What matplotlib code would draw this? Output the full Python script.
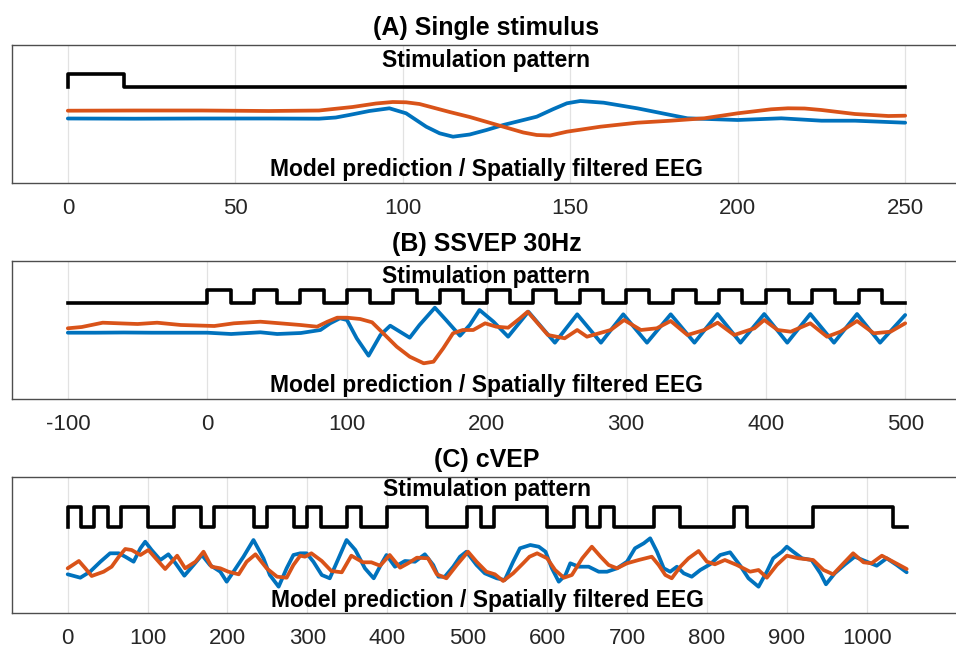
import numpy as np
import matplotlib
matplotlib.use("Agg")
import matplotlib.pyplot as plt

plt.rcParams['font.family'] = ['Liberation Sans', 'DejaVu Sans']
plt.rcParams['axes.unicode_minus'] = False

BLUE = '#0072BD'
ORANGE = '#D95319'
FRAME = 1000 / 60  # one monitor frame in ms

# ---- (A) single stimulus ----
a_bits = [1] + [0] * 14
a_t_blue = [0, 20, 40, 60, 75, 80, 84, 90, 96, 101, 107, 111, 115, 120, 125, 130, 140, 145, 149,
            153, 160, 170, 180, 185, 200, 213, 225, 235, 250]
a_blue = [64.5, 64.3, 64.5, 64.5, 64.3, 65.5, 68, 72, 74.7, 69.7, 56.3, 49.7, 46.3, 48.5, 53,
          58, 66.3, 74, 79.7, 82, 80.3, 74.7, 68, 64.7, 63, 64.7, 62.3, 62.3, 60.3]
a_t_orange = [0, 20, 40, 60, 75, 85, 92, 97, 101, 105, 114, 120, 130, 136, 140, 144, 149, 159,
              170, 180, 190, 200, 210, 215, 220, 225, 235, 245, 250]
a_orange = [72.3, 72.5, 72.5, 72, 72.5, 76, 79.5, 81, 80.7, 79, 71, 66, 56.3, 50.5, 48, 47.5,
            51.3, 56.3, 60.3, 62.3, 64.7, 69.7, 73.7, 74.7, 74.5, 73, 69, 67, 67.3]

# ---- (B) SSVEP 30 Hz ----
b_bits = [1, 0] * 15
b_t_blue = [-100, -80, -60, -40, -19, 0, 17, 38, 50, 67, 81, 88, 95, 100, 107, 115.5, 124, 131,
            138, 145, 152, 163, 171, 181, 188, 195, 205, 215.5, 230, 249, 265, 282, 298, 315,
            332, 349, 365.5, 382, 399, 415.5, 432, 449, 465.5, 482, 500]
b_blue = [66.3, 66.3, 66.5, 66.3, 66.3, 66.3, 65, 66.7, 65, 66, 69, 75.7, 80.7, 79, 60.7, 43.3,
          64, 73.3, 67.3, 61.3, 74, 91.3, 79, 63.3, 74, 89, 77.3, 62.3, 87.3, 56.3, 84.7, 56.3,
          84.7, 56.3, 84.7, 56.3, 85, 56.3, 85, 56.3, 85, 56.3, 85, 56.3, 84]
b_t_orange = [-100, -90, -75, -60, -50, -36, -19, 5, 19, 38, 52, 66.7, 78.6, 86, 93, 100, 109.5,
              118, 126, 135.7, 145, 155, 162, 169, 176, 183, 190.5, 199, 207, 215.5, 224, 229.5,
              244, 256, 265, 272, 289, 298.6, 310.6, 322, 332, 344, 356, 365.6, 377.5, 392, 399,
              408.6, 418, 432, 444, 453.6, 465.5, 477.5, 489.5, 500]
b_orange = [70.7, 72, 76.3, 75.5, 75, 76.3, 74, 73, 75.7, 77.3, 75.7, 74, 72.3, 77.3, 81.3, 81.3,
            80, 76.7, 65.7, 52.3, 42.3, 35.7, 37.3, 50.7, 65.7, 69, 69, 75.7, 72.3, 71.3, 80.7,
            87.3, 64, 60.7, 69, 62.3, 69, 79, 69, 70.7, 78, 64, 69, 76.3, 64, 70.7, 79, 69, 67.3,
            75.7, 62.3, 67.3, 78, 65.7, 67.3, 75.7]

# ---- (C) cVEP, 63-frame code ----
c_bits = [1, 0, 1, 0, 1, 1, 0, 0, 1, 1, 0, 1, 1, 1, 0, 1, 1, 0, 1, 0, 0, 1, 0, 0, 1, 1, 1, 0, 0, 0,
          1, 0, 1, 1, 1, 1, 0, 0, 1, 0, 1, 0, 0, 0, 1, 1, 0, 0, 0, 0, 1, 0, 0, 0, 0, 0, 1, 1, 1, 1,
          1, 1, 0]
c_t_blue = [0, 15.8, 28, 41, 53, 64, 72, 82.5, 91, 97, 105, 116, 126, 135, 146, 157.5, 168, 178,
            191, 199, 207.5, 220, 232.5, 245, 253, 264, 274, 282.5, 291, 299, 307.5, 318, 328,
            339, 349, 360, 372, 383, 393, 399, 409.6, 422, 434.6, 447, 457.5, 464, 472, 482.5,
            491, 499, 511.7, 522, 537, 547, 557.5, 566, 579, 589.6, 598, 606, 614.6, 623, 629,
            639.6, 652, 664.6, 675, 687.5, 700, 710, 721, 729, 737.5, 746, 754, 762.5, 771, 781,
            791.7, 804, 816.7, 829, 841.7, 852, 864.6, 875, 883, 894, 900, 908, 919, 931, 942,
            949, 960, 973, 985, 998, 1012.5, 1025, 1037.5, 1050]
c_blue = [38.4, 35, 41, 51, 59.4, 59.4, 56, 51, 64.4, 71, 62.7, 52.7, 58.4, 49.4, 37, 47.7, 57.7,
          47.7, 41, 31, 41, 56, 72.7, 54.4, 37.7, 26, 44.4, 57.7, 59.4, 59.4, 51, 37.7, 34.4,
          54.4, 72.7, 62.7, 44.4, 34.4, 49.4, 57.7, 46, 51.7, 51, 58.4, 47.7, 36, 36, 46, 56, 61,
          47.7, 39.4, 34.4, 32.7, 51, 64.4, 67.7, 66, 61, 44.4, 31, 37.7, 49.4, 46, 46, 41, 41,
          44.4, 51, 64.4, 69.4, 74.4, 61, 44.4, 41, 46, 39.4, 36, 42.7, 48.4, 57.7, 60.4, 47,
          34.4, 26, 41, 54.4, 61, 66, 61, 54.4, 52.7, 39.4, 28.4, 39.4, 48.4, 56, 51.7, 47, 54.4,
          47.7, 40.4]
c_t_orange = [0, 14, 22, 30, 45, 55, 64, 72, 80, 91, 101, 112, 122, 137, 147, 160, 170, 180, 191,
              201, 214, 224, 235, 249, 262, 274, 282.5, 291, 297, 305, 318, 330, 343, 355, 369.6,
              380, 391, 403, 416, 426, 437, 451, 462, 474, 487, 501, 511.7, 524, 534.6, 545,
              557.5, 570, 578, 587.5, 600, 610, 621, 631, 644, 656, 667, 677, 687.5, 700, 714.6,
              731, 739.6, 748, 756, 766.7, 777, 789.6, 800, 810, 822.5, 837.5, 854, 864.6, 875,
              887.5, 900, 914.6, 933, 946, 958, 971, 983, 996, 1006, 1019, 1033, 1050]
c_orange = [44.4, 51.7, 44.4, 36.7, 41, 46, 56, 63.7, 62.7, 57.7, 62.7, 52.7, 43.7, 57, 44.4, 51,
            61, 46, 44.4, 41, 38.4, 51, 58.4, 44.4, 36, 35, 47.7, 57, 56, 59.4, 51.7, 41.7, 40.4,
            57, 50.4, 50.4, 47, 57.7, 45, 49.4, 55, 54.4, 38.4, 34.4, 47.7, 61, 51, 41, 38.4,
            31.7, 39.4, 49.4, 56, 59.4, 54.4, 42.7, 35, 37.7, 54.4, 66, 56, 47.7, 44.4, 49.4, 52.7,
            56, 47.7, 37.7, 34.4, 46, 54.4, 61.7, 51, 48.4, 52.7, 47.7, 41, 42.7, 35, 47.7, 57,
            54.4, 52.7, 42.7, 38.4, 49.4, 59.4, 50.4, 49.4, 57, 51, 43.7]

panels = [
    dict(title='(A) Single stimulus', bits=a_bits, start=0, low=96.5, high=109,
         tb=a_t_blue, yb=a_blue, to=a_t_orange, yo=a_orange,
         xlim=(-16.67, 266.67), ticks=np.arange(0, 251, 50), mid=125,
         rect=[12 / 956, 465 / 648, 949 / 956, 138 / 648], ytop=138, s_y=0.843, m_y=0.051),
    dict(title='(B) SSVEP 30Hz', bits=b_bits, start=-100, low=95.7, high=108.7,
         tb=b_t_blue, yb=b_blue, to=b_t_orange, yo=b_orange,
         xlim=(-140, 540), ticks=np.arange(-100, 501, 100), mid=200,
         rect=[12 / 956, 249 / 648, 949 / 956, 138 / 648], ytop=138, s_y=0.838, m_y=0.053),
    dict(title='(C) cVEP', bits=c_bits, start=0, low=85.4, high=106,
         tb=c_t_blue, yb=c_blue, to=c_t_orange, yo=c_orange,
         xlim=(-69.7, 1118), ticks=np.arange(0, 1001, 100), mid=525,
         rect=[12 / 956, 35.3 / 648, 949 / 956, 136 / 648], ytop=136, s_y=0.858, m_y=0.044),
]

fig = plt.figure(figsize=(9.56, 6.48), dpi=100)

for p in panels:
    ax = fig.add_axes(p['rect'])
    # stimulation pattern as a step trace
    bits = np.array(p['bits'], dtype=float)
    edges = np.arange(len(bits) + 1) * FRAME
    lev = p['low'] + bits * (p['high'] - p['low'])
    sx = np.r_[p['start'], edges]
    sy = np.r_[p['low'], lev, lev[-1]]
    ax.step(sx, sy, where='post', color='black', lw=2.6)

    ax.plot(p['tb'], p['yb'], color=BLUE, lw=2.7, solid_joinstyle='round', solid_capstyle='round')
    ax.plot(p['to'], p['yo'], color=ORANGE, lw=2.7, solid_joinstyle='round', solid_capstyle='round')

    ax.text(p['mid'], p['s_y'], 'Stimulation pattern', transform=ax.get_xaxis_transform(),
            ha='center', va='baseline', fontsize=16.5, fontweight='bold')
    ax.text(p['mid'], p['m_y'], 'Model prediction / Spatially filtered EEG',
            transform=ax.get_xaxis_transform(),
            ha='center', va='baseline', fontsize=16.5, fontweight='bold')

    ax.set_xlim(*p['xlim'])
    ax.set_ylim(0, p['ytop'])
    ax.set_xticks(p['ticks'])
    ax.set_yticks([])
    ax.tick_params(axis='x', length=0, pad=11, labelsize=16, labelcolor='#262626')
    ax.grid(axis='x', color='#e2e2e2', lw=0.9)
    ax.set_axisbelow(True)
    for s in ax.spines.values():
        s.set_color('#4d4d4d')
        s.set_linewidth(1.0)
    ax.set_title(p['title'], fontsize=18, fontweight='bold', pad=7)

fig.savefig('out.png', dpi=100)
